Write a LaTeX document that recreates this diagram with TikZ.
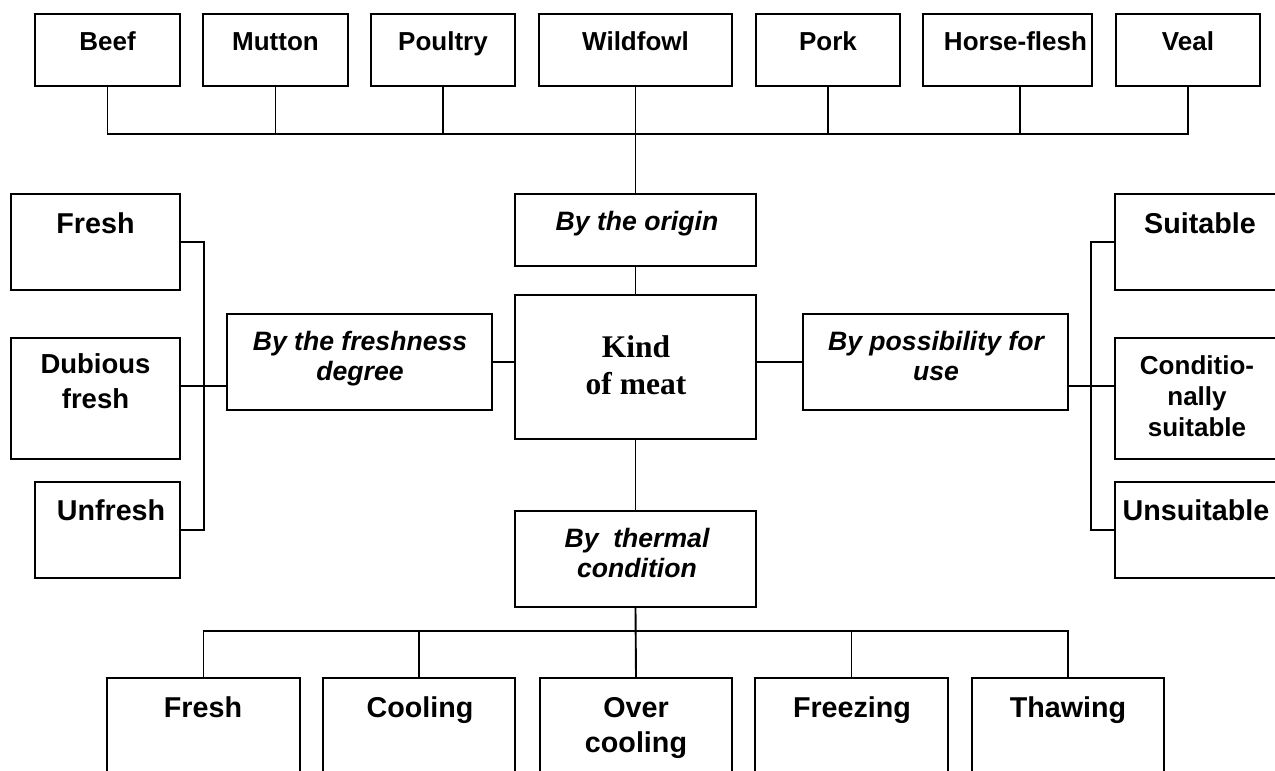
\documentclass[tikz,border=0pt]{standalone}
\usepackage{fontspec}
\setmainfont{Liberation Sans}
\newfontfamily\kindfont{Liberation Serif}
\newcommand\ml[1]{\begin{tabular}[t]{@{}c@{}}#1\end{tabular}}
\newcommand\mybox[5]{\node[box,minimum width={(#4)-(#2)},minimum height={(#5)-(#3)}] (#1) at ({((#2)+(#4))/2},{((#3)+(#5))/2}) {};}
\begin{document}
\begin{tikzpicture}[x=1pt,y=-1pt,
  box/.style={draw,line width=2pt,inner sep=0pt,rectangle},
  conn/.style={line width=1.9pt},
  txtA/.style={anchor=base,inner sep=0pt,font=\fontsize{26}{31}\selectfont\bfseries},
  txtB/.style={anchor=base,inner sep=0pt,font=\fontsize{28.7}{35}\selectfont\bfseries},
  itxt/.style={anchor=base,inner sep=0pt,font=\fontsize{26.6}{30}\selectfont\bfseries\itshape},
  kindtxt/.style={anchor=base,inner sep=0pt,font=\fontsize{31.5}{37}\selectfont\kindfont\bfseries}]
\useasboundingbox (0,0) rectangle (1275,771);
\fill[white] (0,0) rectangle (1275,771);
\clip (0,0) rectangle (1275,771);

% top row
\mybox{beef}{35}{14}{180}{86}
\mybox{mutton}{203}{14}{348}{86}
\mybox{poultry}{371}{14}{515}{86}
\mybox{wildfowl}{539}{14}{732}{86}
\mybox{pork}{756}{14}{900}{86}
\mybox{horse}{923}{14}{1092}{86}
\mybox{veal}{1116}{14}{1260}{86}
\node[txtA] (tbeef) at (107.5,50) {Beef};
\node[txtA] (tmutton) at (275.5,50) {Mutton};
\node[txtA] (tpoultry) at (443,50) {Poultry};
\node[txtA] (twildfowl) at (635.5,50) {Wildfowl};
\node[txtA] (tpork) at (828,50) {Pork};
\node[txtA] (thorse) at (1015.5,50) {Horse-flesh};
\node[txtA] (tveal) at (1188,50) {Veal};

% middle column
\mybox{origin}{515}{194}{756}{266}
\mybox{kind}{515}{295}{756}{439}
\mybox{thermal}{515}{511}{756}{607}
\node[itxt] (torigin) at (637,230) {By the origin};
\node[kindtxt] (tkind) at (636,357) {\ml{Kind\\of meat}};
\node[itxt] (tthermal) at (637,547) {\ml{By\ \ thermal\\condition}};

% side categories
\mybox{degree}{227}{314}{492}{410}
\mybox{possib}{803}{314}{1068}{410}
\node[itxt] (tdegree) at (360,350) {\ml{By the freshness\\degree}};
\node[itxt] (tpossib) at (936,350) {\ml{By possibility for\\use}};

% left column
\mybox{lfresh}{11}{194}{180}{290}
\mybox{ldub}{11}{338}{180}{459}
\mybox{lunf}{35}{482}{180}{578}
\node[txtB] (tlfresh) at (95.5,233) {Fresh};
\node[txtA,font=\fontsize{27.5}{35}\selectfont\bfseries] (tldub) at (95.5,373) {\ml{Dubious\\fresh}};
\node[txtB] (tlunf) at (111,520) {Unfresh};

% right column
\mybox{rsuit}{1115}{194}{1279}{290}
\mybox{rcond}{1115}{338}{1279}{459}
\mybox{runs}{1115}{482}{1279}{578}
\node[txtB] (trsuit) at (1200,233) {Suitable};
\node[txtA] (trcond) at (1197,374) {\ml{Conditio-\\nally\\suitable}};
\node[txtB] (truns) at (1196,520) {Unsuitable};

% bottom row
\mybox{bfresh}{107}{678}{300}{800}
\mybox{bcool}{323}{678}{515}{800}
\mybox{bover}{540}{678}{732}{800}
\mybox{bfreeze}{755}{678}{948}{800}
\mybox{bthaw}{972}{678}{1164}{800}
\node[txtB] (tbfresh) at (203,717) {Fresh};
\node[txtB] (tbcool) at (420,717) {Cooling};
\node[txtB] (tbover) at (636,717) {\ml{Over\\cooling}};
\node[txtB] (tbfreeze) at (852,717) {Freezing};
\node[txtB] (tbthaw) at (1068,717) {Thawing};

% connectors: top
\coordinate (tophub) at (636,134);
\draw[conn] (beef.south) |- (tophub);
\draw[conn] (mutton.south) |- (tophub);
\draw[conn] (poultry.south) |- (tophub);
\draw[conn] (pork.south) |- (tophub);
\draw[conn] ([xshift=12.5pt]horse.south) |- (tophub);
\draw[conn] (veal.south) |- (tophub);
\draw[conn] (wildfowl.south) -- (origin.north);
\draw[conn] (origin.south) -- (kind.north);

% left
\draw[conn] (lfresh.east) -| ([xshift=23pt]lunf.east) -- (lunf.east);
\draw[conn] ([yshift=12.5pt]ldub.east) -- ([yshift=-24pt]degree.west);
\draw[conn] (degree.east) -- (degree.east -| kind.west);

% right
\draw[conn] (possib.west -| kind.east) -- (possib.west);
\draw[conn] ([yshift=-24pt]possib.east) -- ([yshift=12.5pt]rcond.west);
\draw[conn] (rsuit.west) -| ([xshift=-23pt]runs.west) -- (runs.west);

% bottom
\coordinate (bothub) at (636,631);
\draw[conn] (kind.south) -- (thermal.north);
\draw[conn] (thermal.south) -- (bover.north);
\draw[conn] (bfresh.north) |- (bothub);
\draw[conn] (bcool.north) |- (bothub);
\draw[conn] (bfreeze.north) |- (bothub);
\draw[conn] (bthaw.north) |- (bothub);
\end{tikzpicture}
\end{document}
